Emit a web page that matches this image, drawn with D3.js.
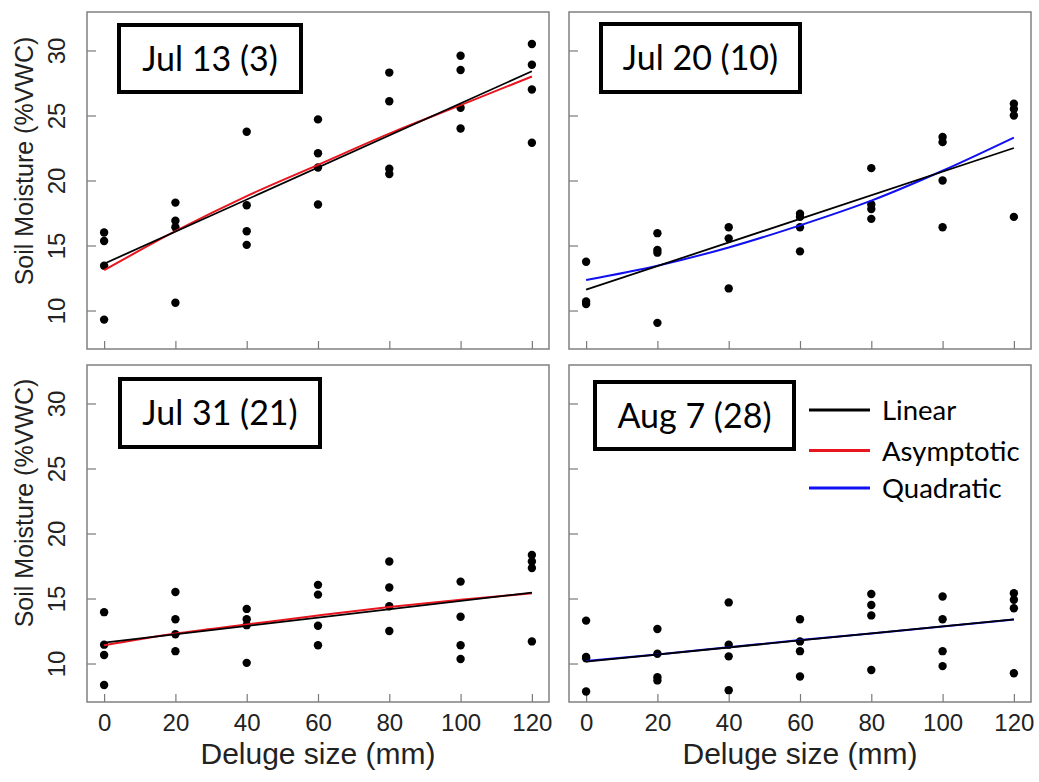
<!DOCTYPE html>
<html>
<head>
<meta charset="utf-8">
<script src="https://cdn.jsdelivr.net/npm/d3@7"></script>
<style>
  body { margin: 0; background: #fff; }
  svg { display: block; }
</style>
</head>
<body>
<svg id="chart"></svg>
<script>
var width = 1039;
var height = 782;

// deluge sizes (mm) — x positions of each group of points
var deluge = [0, 20, 40, 60, 80, 100, 120];
var yTicks = [10, 15, 20, 25, 30];

// soil moisture readings, one list per deluge size
var jul13 = [[16.0, 15.35, 13.45, 9.3], [18.3, 16.9, 16.4, 10.6], [23.75, 18.1, 16.1, 15.05],
  [24.7, 22.1, 21.0, 18.15], [28.3, 26.1, 20.9, 20.5], [29.6, 28.5, 25.6, 24.0], [30.5, 28.9, 27.0, 22.9]];
var jul20 = [[13.75, 10.7, 10.5], [15.95, 14.65, 14.45, 9.05], [16.4, 15.55, 11.7],
  [17.45, 17.2, 16.4, 14.55], [20.95, 18.15, 17.8, 17.05], [23.35, 22.95, 20.0, 16.4], [25.9, 25.5, 25.0, 17.2]];
var jul31 = [[13.95, 11.45, 10.65, 8.35], [15.5, 13.4, 12.25, 10.95], [14.2, 13.4, 12.95, 10.05],
  [16.05, 15.3, 12.9, 11.4], [17.85, 15.85, 14.4, 12.5], [16.3, 13.6, 11.4, 10.35], [18.35, 17.85, 17.35, 11.7]];
var aug7 = [[13.3, 10.5, 10.4, 7.85], [12.65, 10.75, 8.95, 8.7], [14.7, 11.45, 10.55, 7.95],
  [13.4, 11.7, 10.95, 9.0], [15.35, 14.5, 13.7, 9.5], [15.15, 13.4, 10.95, 9.8], [15.4, 14.9, 14.25, 9.25]];

// fitted lines: linear at 0 and 120 mm, curves at every deluge size
var jul13Linear = [13.6, 28.4];
var jul13Asym = [13.1, 16.1, 18.8, 21.2, 23.6, 25.8, 28.0];
var jul20Linear = [11.6, 22.5];
var jul20Quad = [12.35, 13.45, 14.85, 16.55, 18.45, 20.75, 23.3];
var jul31Linear = [11.6, 15.45];
var jul31Asym = [11.4, 12.3, 13.0, 13.7, 14.35, 14.9, 15.4];
var aug7Linear = [10.15, 13.4];
var aug7Quad = [10.2, 10.7, 11.25, 11.8, 12.3, 12.85, 13.38];

var labels = ["Jul 13 (3)", "Jul 20 (10)", "Jul 31 (21)", "Aug 7 (28)"];
var legendNames = ["Linear", "Asymptotic", "Quadratic"];
var legendColors = ["black", "#e8141e", "#1010f0"];

var panels = [
  {label: labels[0], pts: jul13, lin: jul13Linear, curve: jul13Asym, color: "#e8141e", col: 0, row: 0, box: [32, 13, 182, 67]},
  {label: labels[1], pts: jul20, lin: jul20Linear, curve: jul20Quad, color: "#1010f0", col: 1, row: 0, box: [32, 12, 199, 68]},
  {label: labels[2], pts: jul31, lin: jul31Linear, curve: jul31Asym, color: "#e8141e", col: 0, row: 1, box: [33, 14, 200, 68]},
  {label: labels[3], pts: aug7, lin: aug7Linear, curve: aug7Quad, color: "#1010f0", col: 1, row: 1, box: [26, 17, 199, 67]}
];

var colX = [87, 569];
var rowY = [12, 365];
var pw = 462, ph = 337;

var svg = d3.select("#chart")
  .attr("width", width)
  .attr("height", height);

// R-style axes: 4% padding around 0-120 and 8-32
var x = d3.scaleLinear().domain([-4.8, 124.8]).range([0, pw]);
var y = d3.scaleLinear().domain([7.04, 32.96]).range([ph, 0]);

var axisFont = "'Liberation Sans', Arial, sans-serif";
var boxFont = "Lato, 'Open Sans', sans-serif";

panels.forEach(function(p) {
  var g = svg.append("g")
    .attr("transform", "translate(" + colX[p.col] + "," + rowY[p.row] + ")");

  // y axis, ticks pointing inward
  var ya = g.append("g")
    .call(d3.axisLeft(y).tickValues(yTicks).tickSize(-9).tickPadding(0));
  ya.select(".domain").remove();
  ya.selectAll("line").attr("stroke", "#7a7a7a").attr("stroke-width", 1.2);
  if (p.col === 0) {
    ya.selectAll("text")
      .attr("transform", "rotate(-90)")
      .attr("x", 0)
      .attr("y", -22)
      .attr("dy", 0)
      .attr("text-anchor", "middle")
      .attr("fill", "#222")
      .style("font-family", axisFont)
      .style("font-size", "24px");
  } else {
    ya.selectAll("text").remove();
  }

  // x axis
  var xa = g.append("g")
    .attr("transform", "translate(0," + ph + ")")
    .call(d3.axisBottom(x).tickValues(deluge).tickSize(-8).tickPadding(0));
  xa.select(".domain").remove();
  xa.selectAll("line").attr("stroke", "#7a7a7a").attr("stroke-width", 1.2);
  if (p.row === 1) {
    xa.selectAll("text")
      .attr("y", 29)
      .attr("dy", 0)
      .attr("fill", "#222")
      .style("font-family", axisFont)
      .style("font-size", "24px");
  } else {
    xa.selectAll("text").remove();
  }

  g.append("rect")
    .attr("width", pw)
    .attr("height", ph)
    .attr("fill", "none")
    .attr("stroke", "#808080")
    .attr("stroke-width", 1.5);

  // points
  var flat = [];
  p.pts.forEach(function(vals, i) {
    vals.forEach(function(v) { flat.push({d: deluge[i], v: v}); });
  });
  g.selectAll("circle")
    .data(flat)
    .enter().append("circle")
    .attr("cx", function(d) { return x(d.d); })
    .attr("cy", function(d) { return y(d.v); })
    .attr("r", 4.2)
    .attr("fill", "black");

  // fitted curve first, linear fit on top
  var line = d3.line()
    .x(function(d, i) { return x(deluge[i]); })
    .y(function(d) { return y(d); })
    .curve(d3.curveMonotoneX);
  g.append("path")
    .attr("d", line(p.curve))
    .attr("fill", "none")
    .attr("stroke", p.color)
    .attr("stroke-width", 2);

  g.append("line")
    .attr("x1", x(0)).attr("y1", y(p.lin[0]))
    .attr("x2", x(120)).attr("y2", y(p.lin[1]))
    .attr("stroke", "black")
    .attr("stroke-width", 1.8);

  // date label box
  g.append("rect")
    .attr("x", p.box[0]).attr("y", p.box[1])
    .attr("width", p.box[2]).attr("height", p.box[3])
    .attr("fill", "white")
    .attr("stroke", "black")
    .attr("stroke-width", 4);
  g.append("text")
    .attr("x", p.box[0] + p.box[2] / 2)
    .attr("y", p.box[1] + p.box[3] / 2 + 12)
    .attr("text-anchor", "middle")
    .style("font-family", boxFont)
    .style("font-size", "34px")
    .text(p.label);

  // axis titles
  if (p.col === 0) {
    var cy = p.row === 0 ? 161 : 503;
    svg.append("text")
      .attr("transform", "translate(33," + cy + ") rotate(-90)")
      .attr("text-anchor", "middle")
      .attr("fill", "#222")
      .style("font-family", axisFont)
      .style("font-size", "25px")
      .text("Soil Moisture (%VWC)");
  }
  if (p.row === 1) {
    g.append("text")
      .attr("x", pw / 2)
      .attr("y", ph + 62)
      .attr("text-anchor", "middle")
      .attr("fill", "#222")
      .style("font-family", axisFont)
      .style("font-size", "30px")
      .text("Deluge size (mm)");
  }

  // legend in the last panel
  if (p.col === 1 && p.row === 1) {
    var legendY = [45, 85.5, 123];
    var lg = g.selectAll(".legend")
      .data(legendNames)
      .enter().append("g")
      .attr("class", "legend")
      .attr("transform", function(d, i) { return "translate(240," + legendY[i] + ")"; });
    lg.append("line")
      .attr("x1", 0).attr("x2", 61)
      .attr("stroke", function(d, i) { return legendColors[i]; })
      .attr("stroke-width", 3);
    lg.append("text")
      .attr("x", 73)
      .attr("y", 10)
      .style("font-family", boxFont)
      .style("font-size", "27.5px")
      .text(function(d) { return d; });
  }
});
</script>
</body>
</html>
